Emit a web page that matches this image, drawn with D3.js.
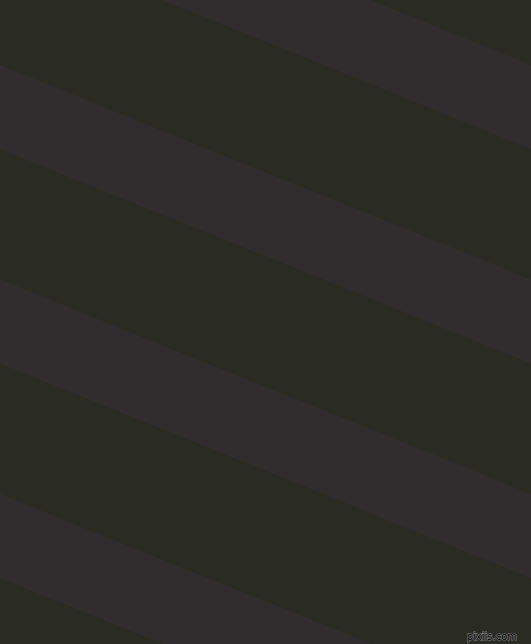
<!DOCTYPE html>
<html>
<head>
<meta charset="utf-8">
<script src="https://cdn.jsdelivr.net/npm/d3@7"></script>
<style>
html,body{margin:0;padding:0;background:#2a2c23;overflow:hidden;}
svg{display:block;}
</style>
</head>
<body>
<script>
// Stripe data
const stripeIndex = [-1, 0, 1, 2, 3];        // light bands, top to bottom
const bandColors = ["#2a2c23", "#312d2e"];  // [dark background, light stripe]
const watermark = ["pixiis.com"];

const W = 531, H = 644;
const angleDeg = 22;
const slope = Math.tan(angleDeg * Math.PI / 180);

// scale: stripe index -> y of top edge at x = 0
const yStart = d3.scaleLinear().domain([0, 1]).range([65, 279.5]);
const thick = 84;
const x = d3.scaleLinear().domain([0, 1]).range([0, W]);

const svg = d3.select("body").append("svg").attr("width", W).attr("height", H);
svg.append("rect").attr("width", W).attr("height", H).attr("fill", bandColors[0]);

const line = d3.line();
svg.selectAll("path.stripe").data(stripeIndex).join("path")
  .attr("class", "stripe")
  .attr("fill", bandColors[1])
  .attr("d", i => {
    const t = yStart(i);
    const x0 = x(0), x1 = x(1);
    return line([[x0, t], [x1, t + x1 * slope], [x1, t + x1 * slope + thick], [x0, t + thick]]) + "Z";
  });

svg.selectAll("text.wm").data(watermark).join("text")
  .attr("class", "wm")
  .attr("x", 517).attr("y", 640)
  .attr("text-anchor", "end")
  .attr("font-family", "DejaVu Sans, sans-serif")
  .attr("font-size", 10)
  .attr("fill", "#000")
  .attr("stroke", "#8a8a8a")
  .attr("stroke-width", 1)
  .attr("paint-order", "stroke")
  .text(d => d);
</script>
</body>
</html>
